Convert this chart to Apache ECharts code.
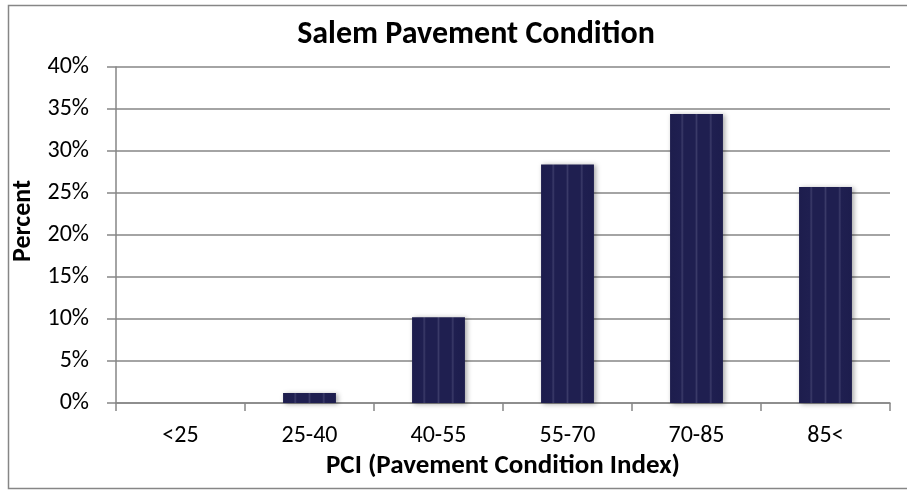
<!DOCTYPE html>
<html>
<head>
<meta charset="utf-8">
<script src="https://cdn.jsdelivr.net/npm/echarts@6/dist/echarts.min.js"></script>
<style>
  html, body { margin: 0; padding: 0; background: #fff; }
  #mainBox { width: 907px; height: 491px; }
</style>
</head>
<body>
<div id="mainBox"></div>
<script>
// data
var categories = ['<25', '25-40', '40-55', '55-70', '70-85', '85<'];
var percentValues = [0, 1.2, 10.2, 28.4, 34.4, 25.7];
var yTicks = [0, 5, 10, 15, 20, 25, 30, 35, 40];

var font = 'Calibri, Carlito, "Open Sans", sans-serif';
var greyLine = '#868686';

// striped navy fill for the bars
var barFill = new echarts.graphic.LinearGradient(0, 0, 1, 0, [
    { offset: 0, color: '#1d1d4d' },
    { offset: 0.2, color: '#1f1f50' },
    { offset: 0.23, color: '#3a3a68' },
    { offset: 0.26, color: '#1f1f50' },
    { offset: 0.47, color: '#1f1f50' },
    { offset: 0.5, color: '#3a3a68' },
    { offset: 0.53, color: '#1f1f50' },
    { offset: 0.74, color: '#1f1f50' },
    { offset: 0.77, color: '#3a3a68' },
    { offset: 0.8, color: '#1f1f50' },
    { offset: 1, color: '#1d1d4d' }
]);

var myChart = echarts.init(document.getElementById('mainBox'));

var option = {
    backgroundColor: '#fff',
    animation: false,
    title: {
        text: 'Salem Pavement Condition',
        left: 471,
        top: 14,
        textAlign: 'center',
        textStyle: { fontFamily: font, fontSize: 32, fontWeight: 'bold', color: '#000' }
    },
    graphic: [{
        type: 'rect',
        shape: { x: 8.5, y: 5.5, width: 905, height: 483 },
        style: { fill: 'none', stroke: greyLine, lineWidth: 1.5 },
        silent: true
    }],
    grid: { left: 116, right: 17, top: 67, bottom: 88 },
    xAxis: {
        type: 'category',
        data: categories,
        name: 'PCI (Pavement Condition Index)',
        nameLocation: 'middle',
        nameGap: 50,
        nameTextStyle: { fontFamily: font, fontSize: 27, fontWeight: 'bold', color: '#000' },
        axisLine: { lineStyle: { color: greyLine, width: 1.5 } },
        axisTick: { show: true, length: 8, lineStyle: { color: greyLine, width: 1.5 } },
        axisLabel: { fontFamily: font, fontSize: 24, color: '#000', margin: 21 }
    },
    yAxis: {
        type: 'value',
        min: 0,
        max: 40,
        interval: 5,
        name: 'Percent',
        nameLocation: 'middle',
        nameGap: 63,
        nameRotate: 90,
        nameTextStyle: {
            fontFamily: font, fontSize: 26, fontWeight: 'bold', color: '#000',
            padding: [0, 0, 0, 28]
        },
        axisLine: { show: true, lineStyle: { color: greyLine, width: 1.5 } },
        axisTick: { show: true, length: 9, lineStyle: { color: greyLine, width: 1.5 } },
        splitLine: { lineStyle: { color: greyLine, width: 1.5 } },
        axisLabel: {
            fontFamily: font, fontSize: 24, color: '#000', margin: 27,
            formatter: function (v) { return yTicks.indexOf(v) >= 0 ? v + '%' : ''; }
        }
    },
    series: [{
        type: 'bar',
        data: percentValues,
        barWidth: '41%',
        itemStyle: {
            color: barFill,
            shadowColor: 'rgba(0,0,0,0.35)',
            shadowBlur: 5,
            shadowOffsetX: 2,
            shadowOffsetY: 1
        }
    }]
};

myChart.setOption(option);
</script>
</body>
</html>
